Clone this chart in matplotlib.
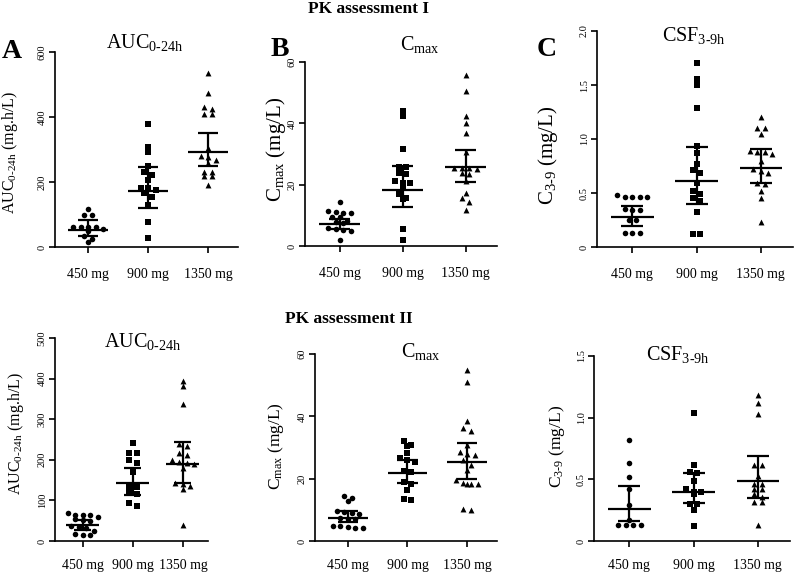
import numpy as np
import matplotlib
matplotlib.use('Agg')
from matplotlib import pyplot as plt

plt.rcParams['font.family'] = 'Liberation Serif'
plt.rcParams['mathtext.fontset'] = 'custom'
plt.rcParams['mathtext.rm'] = 'Liberation Serif'
plt.rcParams['mathtext.it'] = 'Liberation Serif:italic'
plt.rcParams['mathtext.bf'] = 'Liberation Serif:bold'

doses = ['450 mg', '900 mg', '1350 mg']
markers = ['o', 's', '^']

# PK assessment I - AUC 0-24h (mg.h/L)
aucI_450 = [116, 99, 99, 63, 63, 61, 61, 55, 48, 33, 25, 14]
aucI_900 = [378, 307, 292, 249, 230, 222, 205, 181, 181, 174, 166, 155, 128, 76, 27]
aucI_1350 = [536, 475, 431, 426, 409, 409, 306, 280, 278, 268, 258, 231, 232, 217, 217, 191]
aucI_mean = [53, 172, 293]
aucI_lo = [35, 121, 249]
aucI_hi = [82, 245, 350]

# PK assessment I - Cmax (mg/L)
cmaxI_450 = [14.2, 11.5, 11.0, 10.8, 10.6, 9.5, 9.3, 8.1, 7.9, 7.6, 5.8, 5.6, 5.1, 4.9, 2.1]
cmaxI_900 = [43.9, 42.4, 31.5, 25.9, 25.6, 23.9, 23.5, 21.3, 20.6, 20.4, 18.8, 17.1, 15.8, 15.2, 5.7, 2.1]
cmaxI_1350 = [55.6, 50.4, 42.3, 40.0, 36.8, 30.8, 25.5, 25.3, 25.3, 25.0, 23.7, 23.5, 21.3, 17.3, 15.5, 14.4, 11.9]
cmaxI_mean = [7.2, 18.1, 25.6]
cmaxI_lo = [5.6, 12.8, 20.9]
cmaxI_hi = [8.9, 26.2, 31.3]

# PK assessment I - CSF 3-9h (mg/L)
csfI_450 = [0.48, 0.46, 0.46, 0.46, 0.46, 0.35, 0.34, 0.34, 0.25, 0.25, 0.13, 0.13, 0.13]
csfI_900 = [1.70, 1.56, 1.50, 1.29, 0.935, 0.87, 0.765, 0.716, 0.685, 0.59, 0.515, 0.49, 0.45, 0.43, 0.325, 0.123, 0.123]
csfI_1350 = [1.20, 1.10, 1.10, 1.05, 0.89, 0.88, 0.88, 0.86, 0.80, 0.725, 0.70, 0.685, 0.59, 0.58, 0.52, 0.457, 0.23]
csfI_mean = [0.275, 0.61, 0.73]
csfI_lo = [0.19, 0.40, 0.59]
csfI_hi = [0.38, 0.925, 0.91]

# PK assessment II - AUC 0-24h (mg.h/L)
aucII_450 = [68, 65, 63, 63, 58, 53, 51, 49, 36, 35, 33, 25, 18, 16, 16]
aucII_900 = [242, 217, 216, 200, 193, 170, 133, 132, 119, 115, 94, 86]
aucII_1350 = [393, 381, 338, 238, 235, 217, 212, 199, 195, 193, 189, 179, 144, 140, 135, 127, 40]
aucII_mean = [39, 144, 189]
aucII_lo = [26, 113, 143]
aucII_hi = [51, 180, 245]

# PK assessment II - Cmax (mg/L)
cmaxII_450 = [14.4, 13.9, 12.9, 9.6, 9.3, 9.0, 8.8, 7.5, 7.2, 6.9, 4.7, 4.5, 4.3, 4.3, 4.7]
cmaxII_900 = [32.0, 30.8, 30.5, 28.1, 26.5, 25.9, 25.4, 22.5, 22.2, 19.0, 18.4, 16.5, 13.6, 13.3]
cmaxII_1350 = [54.9, 51.1, 38.6, 36.3, 35.4, 30.8, 28.6, 27.9, 27.5, 25.9, 24.5, 22.9, 19.7, 18.6, 18.4, 18.2, 18.4, 10.4, 9.9]
cmaxII_mean = [7.5, 21.9, 25.2]
cmaxII_lo = [6.1, 18.6, 20.0]
cmaxII_hi = [9.6, 25.9, 31.3]

# PK assessment II - CSF 3-9h (mg/L)
csfII_450 = [0.82, 0.63, 0.52, 0.42, 0.29, 0.17, 0.13, 0.13, 0.13, 0.13]
csfII_900 = [1.04, 0.62, 0.56, 0.55, 0.49, 0.42, 0.40, 0.40, 0.38, 0.30, 0.30, 0.25, 0.12]
csfII_1350 = [1.18, 1.12, 1.03, 0.62, 0.62, 0.53, 0.46, 0.46, 0.42, 0.42, 0.38, 0.36, 0.32, 0.32, 0.13]
csfII_mean = [0.26, 0.40, 0.49]
csfII_lo = [0.16, 0.31, 0.35]
csfII_hi = [0.45, 0.55, 0.69]

W, H = 800, 574
fig = plt.figure(figsize=(W / 100, H / 100), dpi=100)


def box(l, t, r, b):
    return [l / W, 1 - b / H, (r - l) / W, (b - t) / H]


def ftext(x, y, s, **kw):
    fig.text(x / W, 1 - y / H, s, **kw)


def swarm(ax, vals, x0, step=7.5, tol=4.5):
    # points at about the same height go side by side, like a dot plot
    ypix = ax.transData.transform(np.column_stack([np.full(len(vals), x0), vals]))[:, 1]
    order = np.argsort(-ypix)
    xs = np.zeros(len(vals))
    rows = []
    for i in order:
        if rows and abs(ypix[rows[-1][0]] - ypix[i]) < tol:
            rows[-1].append(i)
        else:
            rows.append([i])
    p0 = ax.transData.transform([(0, 0), (1, 0)])
    unit = p0[1, 0] - p0[0, 0]
    for row in rows:
        n = len(row)
        for k, i in enumerate(row):
            xs[i] = x0 + (k - (n - 1) / 2) * step / unit
    return xs


def panel(rect, groups, mean, lo, hi, ymax, yticks, ytlabels, pad):
    ax = fig.add_axes(box(*rect))
    ax.set_xlim(-0.55, 2.5)
    ax.set_ylim(0, ymax)
    for sp in ['top', 'right']:
        ax.spines[sp].set_visible(False)
    for sp in ['left', 'bottom']:
        ax.spines[sp].set_linewidth(1.2)
    ax.set_xticks(range(3))
    ax.set_xticklabels(doses, fontsize=10)
    ax.set_yticks(yticks)
    ax.set_yticklabels(ytlabels, fontsize=7.5, rotation=90, va='center')
    ax.tick_params(axis='x', length=4, width=1.2, pad=pad)
    ax.tick_params(axis='y', length=4, width=1.2, pad=2)
    for i, vals in enumerate(groups):
        xs = swarm(ax, vals, i)
        ax.scatter(xs, vals, marker=markers[i], s=16 if i < 2 else 18,
                   color='black', linewidths=0, zorder=3, clip_on=False)
        ax.hlines(mean[i], i - 0.33, i + 0.33, color='black', lw=1.6, zorder=4)
        ax.hlines([lo[i], hi[i]], i - 0.17, i + 0.17, color='black', lw=1.6, zorder=4)
        ax.vlines(i, lo[i], hi[i], color='black', lw=1.6, zorder=4)
    return ax


panel((55, 52, 238, 247), [aucI_450, aucI_900, aucI_1350], aucI_mean, aucI_lo, aucI_hi,
      600, [0, 200, 400, 600], ['0', '200', '400', '600'], 11)
panel((305, 62, 497, 246), [cmaxI_450, cmaxI_900, cmaxI_1350], cmaxI_mean, cmaxI_lo, cmaxI_hi,
      60, [0, 20, 40, 60], ['0', '20', '40', '60'], 11)
panel((597, 31, 793, 247), [csfI_450, csfI_900, csfI_1350], csfI_mean, csfI_lo, csfI_hi,
      2.0, [0, 0.5, 1.0, 1.5, 2.0], ['0', '0.5', '1.0', '1.5', '2.0'], 11)
panel((55, 338, 208, 541), [aucII_450, aucII_900, aucII_1350], aucII_mean, aucII_lo, aucII_hi,
      500, [0, 100, 200, 300, 400, 500], ['0', '100', '200', '300', '400', '500'], 9)
panel((315, 354, 497, 541), [cmaxII_450, cmaxII_900, cmaxII_1350], cmaxII_mean, cmaxII_lo, cmaxII_hi,
      60, [0, 20, 40, 60], ['0', '20', '40', '60'], 9)
panel((594, 356, 790, 541), [csfII_450, csfII_900, csfII_1350], csfII_mean, csfII_lo, csfII_hi,
      1.5, [0, 0.5, 1.0, 1.5], ['0', '0.5', '1.0', '1.5'], 9)

# headings
ftext(369, 13, 'PK assessment I', fontsize=12.5, fontweight='bold', ha='center', va='baseline')
ftext(349, 323, 'PK assessment II', fontsize=12.5, fontweight='bold', ha='center', va='baseline')
ftext(12, 51, 'A', fontsize=20, fontweight='bold', ha='center', va='center')
ftext(280, 50, 'B', fontsize=20, fontweight='bold', ha='center', va='center')
ftext(547, 49, 'C', fontsize=20, fontweight='bold', ha='center', va='center')

# panel titles (hyphen is U+2010 so mathtext does not turn it into a minus)
auc_t = 'AUC$_{\\mathrm{0\u201024h}}$'
cmax_t = r'C$_{\mathrm{max}}$'
csf_t = 'CSF$_{\\mathrm{3\u20109h}}$'
ftext(145, 48, auc_t, fontsize=14.5, ha='center', va='baseline')
ftext(420, 50, cmax_t, fontsize=14.5, ha='center', va='baseline')
ftext(694, 41, csf_t, fontsize=14.5, ha='center', va='baseline')
ftext(143, 347, auc_t, fontsize=14.5, ha='center', va='baseline')
ftext(421, 357, cmax_t, fontsize=14.5, ha='center', va='baseline')
ftext(678, 360, csf_t, fontsize=14.5, ha='center', va='baseline')

# y labels
auc_y = 'AUC$_{\\mathrm{0\u201024h}}$ (mg.h/L)'
cmax_y = r'C$_{\mathrm{max}}$ (mg/L)'
csf_y = 'C$_{\\mathrm{3\u20109}}$ (mg/L)'
ftext(10, 152, auc_y, fontsize=11.5, rotation=90, ha='center', va='center')
ftext(276, 149, cmax_y, fontsize=15, rotation=90, ha='center', va='center')
ftext(548, 155, csf_y, fontsize=15, rotation=90, ha='center', va='center')
ftext(16, 433, auc_y, fontsize=11.5, rotation=90, ha='center', va='center')
ftext(276, 446, cmax_y, fontsize=12.5, rotation=90, ha='center', va='center')
ftext(557, 446, csf_y, fontsize=12.5, rotation=90, ha='center', va='center')

fig.savefig('out.png', dpi=100)
